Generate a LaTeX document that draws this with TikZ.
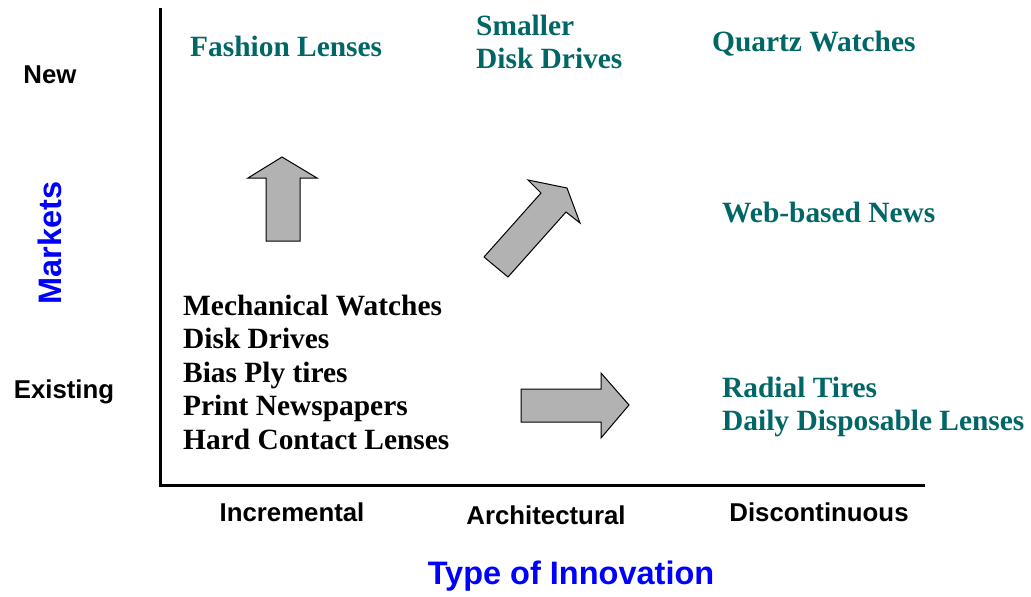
\documentclass[tikz,border=0pt]{standalone}
\usepackage{fontspec}
\setmainfont{Liberation Serif}
\newfontfamily\arialfont{Liberation Sans}
\usetikzlibrary{positioning}
\definecolor{tealtext}{RGB}{0,102,102}
\definecolor{arrowgray}{RGB}{178,178,178}
\tikzset{
  item/.style={anchor=west,align=left,inner xsep=0pt,font=\bfseries\fontsize{29.4}{33.5}\selectfont},
  example/.style={item,text=tealtext},
  axislabel/.style={font=\arialfont\bfseries\fontsize{25.8}{30}\selectfont},
  axistitle/.style={font=\arialfont\bfseries\fontsize{32.5}{36}\selectfont,text=blue},
  fatarrow/.style={draw=black,fill=arrowgray,line width=1pt,line join=miter}
}

\begin{document}
\begin{tikzpicture}[x=1pt,y=-1pt]
  \useasboundingbox (0,0) rectangle (1031,597);

  \coordinate (top) at (160,8);
  \coordinate (origin) at (160,485);
  \coordinate (xend) at (925,485);
  \draw[line width=3pt] (top) -- (origin) -- (xend);

  % axis labels
  \draw (50,75) node[axislabel] (new) {New};
  \draw (64,392) node[axislabel] (existing) {Existing};
  \draw (50,243) node[axistitle,rotate=90] (markets) {Markets};
  \draw (292,512) node[axislabel] (incremental) {Incremental};
  \draw (546,515) node[axislabel] (architectural) {Architectural};
  \draw (819,512) node[axislabel] (discontinuous) {Discontinuous};
  \draw (571,576) node[axistitle] (type) {Type of Innovation};

  % products
  \draw (183,372) node[item] (existingitems) {Mechanical Watches\\Disk Drives\\Bias Ply tires\\Print Newspapers\\Hard Contact Lenses};
  \draw (190,46) node[example] (fashion) {Fashion Lenses};
  \draw (476,42) node[example] (smaller) {Smaller\\Disk Drives};
  \draw (712,44) node[example] (quartz) {Quartz Watches};
  \draw (722,213) node[example] (web) {Web-based News};
  \draw (722,407) node[example] (radial) {Radial Tires\\Daily Disposable Lenses};

  % block arrows
  \draw[fatarrow] (266,241) -- (266,178) -- (248,178) -- (282,157) -- (317,178) -- (300,178) -- (300,241) -- cycle;
  \draw[fatarrow] (484,257) -- (541,193) -- (528,180) -- (567,188) -- (580,223) -- (566,212) -- (508,277) -- cycle;
  \draw[fatarrow] (521,389) -- (601,389) -- (601,373) -- (629,405) -- (601,438) -- (601,422) -- (521,422) -- cycle;
\end{tikzpicture}
\end{document}
